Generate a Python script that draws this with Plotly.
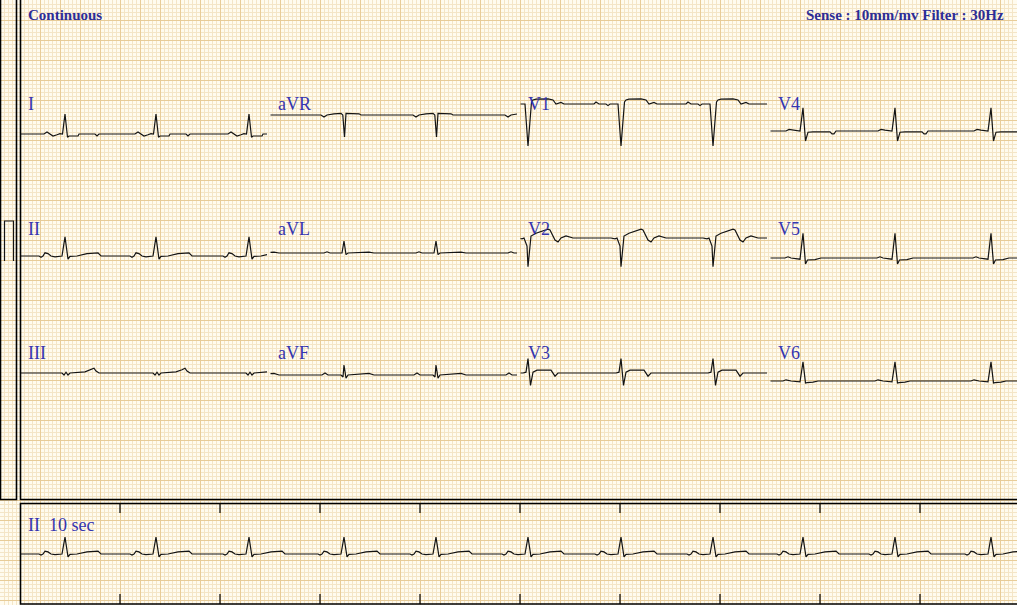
import numpy as np
import plotly.graph_objects as go

# ---------------- DATA ----------------
# R-peak times (s) read from the rhythm strip (25 mm/s, 10 mm/mV)
R_TIMES = [0.45, 1.36, 2.29, 3.24, 4.16, 5.08, 6.01, 6.93, 7.83, 8.75, 9.71]

# beat templates: offsets from R peak (s) and amplitude (mV)
I_T   = [-0.21, -0.18, -0.15, -0.12, -0.08, -0.05, -0.025, 0.0, 0.025, 0.04, 0.13, 0.14, 0.30, 0.32, 0.34]
I_MV  = [0.0, 0.05, 0.0, -0.05, -0.02, 0.01, 0.0, 0.50, -0.08, -0.05, -0.05, 0.0, 0.0, -0.05, 0.0]

AVR_T  = [-0.23, -0.20, -0.17, -0.10, -0.03, -0.012, 0.005, 0.02, 0.15, 0.17]
AVR_MV = [0.0, -0.05, 0.0, 0.03, 0.04, 0.0, -0.55, 0.04, 0.03, 0.0]

V1_T  = [-0.27, -0.25, -0.22, -0.15, -0.13, -0.11, -0.03, 0.0, 0.035, 0.05, 0.08, 0.20, 0.25, 0.28, 0.33, 0.36]
V1_MV = [0.0, 0.05, 0.0, 0.0, -0.04, 0.0, 0.0, -1.05, 0.05, 0.10, 0.12, 0.13, 0.10, 0.0, 0.04, 0.0]

V4_T  = [-0.17, -0.14, -0.10, -0.03, 0.0, 0.025, 0.05, 0.10, 0.27, 0.29, 0.31, 0.33]
V4_MV = [0.0, 0.04, 0.02, 0.0, 0.58, -0.25, -0.03, -0.02, -0.02, -0.07, -0.07, 0.0]

II_T  = [-0.26, -0.24, -0.22, -0.20, -0.17, -0.14, -0.10, -0.03, 0.0, 0.03, 0.05, 0.12, 0.22, 0.33, 0.36]
II_MV = [0.0, -0.03, 0.0, 0.08, 0.06, 0.0, -0.02, 0.0, 0.48, -0.08, -0.01, 0.0, 0.06, 0.08, 0.0]

AVL_T  = [-0.20, -0.17, -0.14, -0.02, 0.0, 0.02, 0.04, 0.25, 0.30]
AVL_MV = [0.0, 0.03, 0.0, 0.0, 0.30, -0.04, 0.0, 0.02, 0.0]

V2_T  = [-0.10, -0.06, -0.04, -0.01, 0.0, 0.03, 0.08, 0.20, 0.22, 0.27, 0.30, 0.33, 0.38, 0.45]
V2_MV = [0.0, -0.02, 0.0, -0.20, -0.72, 0.05, 0.12, 0.22, 0.20, -0.05, -0.10, 0.0, 0.05, 0.0]

V5_T  = [-0.18, -0.15, -0.12, -0.03, 0.0, 0.025, 0.045, 0.12, 0.18]
V5_MV = [0.0, 0.03, 0.0, -0.03, 0.62, -0.15, -0.05, -0.04, 0.0]

III_T  = [-0.03, -0.01, 0.01, 0.03, 0.05, 0.20, 0.26, 0.29, 0.31, 0.34]
III_MV = [0.0, -0.05, 0.02, -0.05, 0.0, 0.03, 0.08, 0.12, 0.05, 0.0]

AVF_T  = [-0.22, -0.19, -0.16, -0.03, -0.01, 0.0, 0.02, 0.04, 0.25, 0.30]
AVF_MV = [0.0, 0.05, 0.0, 0.0, -0.05, 0.25, -0.08, 0.0, 0.04, 0.0]

V3_T  = [-0.05, -0.02, 0.0, 0.025, 0.05, 0.09, 0.23, 0.27, 0.30]
V3_MV = [0.0, 0.02, 0.36, -0.31, 0.02, 0.07, 0.07, -0.08, 0.0]

V6_T  = [-0.20, -0.17, -0.12, -0.03, 0.0, 0.025, 0.04, 0.10, 0.15]
V6_MV = [0.0, 0.03, 0.0, -0.02, 0.48, -0.05, -0.04, -0.03, 0.0]

LEAD_NAMES = ["I", "aVR", "V1", "V4", "II", "aVL", "V2", "V5", "III", "aVF", "V3", "V6"]
TEMPLATES = {
    "I": (I_T, I_MV), "aVR": (AVR_T, AVR_MV), "V1": (V1_T, V1_MV), "V4": (V4_T, V4_MV),
    "II": (II_T, II_MV), "aVL": (AVL_T, AVL_MV), "V2": (V2_T, V2_MV), "V5": (V5_T, V5_MV),
    "III": (III_T, III_MV), "aVF": (AVF_T, AVF_MV), "V3": (V3_T, V3_MV), "V6": (V6_T, V6_MV),
}
CAL_MV = 1.0  # calibration pulse height
TOTAL_S = 10.0
COL_S = 2.5

# ---------------- LAYOUT (pixels) ----------------
W, H = 1017, 605
X0PX = 20          # pixel of t = 0
PX_S = 100.0       # px per second
PX_MV = 40.0       # px per mV

def tx(px):
    return (px - X0PX) / PX_S

def ty(py):
    return -py / PX_MV

# baseline (pixel y) of each lead
BASE_PX = {"I": 134, "aVR": 115, "V1": 104, "V4": 131,
           "II": 256, "aVL": 253, "V2": 238, "V5": 258,
           "III": 373, "aVF": 375, "V3": 373, "V6": 381}
RHYTHM_BASE_PX = 554
LABEL_PX = {0: 104, 1: 229, 2: 353}
COL_LABEL_X = [26, 276, 526, 776]

INK = "#141414"
LABEL_COLOR = "#3535B0"
TITLE_COLOR = "#2D2D96"
BG = "#FFFBEE"
MINOR = "#F4E5C6"
MAJOR = "#E8CC98"


def lead_signal(name):
    """Piecewise-linear lead signal: template placed at each R peak."""
    tt, mv = TEMPLATES[name]
    ts, vs = [0.0], [0.0]
    for r in R_TIMES:
        for dt, v in zip(tt, mv):
            ts.append(r + dt)
            vs.append(v)
    ts.append(TOTAL_S)
    vs.append(0.0)
    return np.array(ts), np.array(vs)


def window(ts, vs, a, b):
    m = (ts > a) & (ts < b)
    x = np.concatenate([[a], ts[m], [b]])
    y = np.concatenate([[np.interp(a, ts, vs)], vs[m], [np.interp(b, ts, vs)]])
    return x, y


fig = go.Figure()

# 12-lead section: 4 columns x 3 rows, 2.5 s each
for i, name in enumerate(LEAD_NAMES):
    row, col = divmod(i, 4)
    ts, vs = lead_signal(name)
    a = col * COL_S + 0.005
    b = col * COL_S + COL_S - 0.03
    if col == 0:
        a = 0.0
    x, y = window(ts, vs, a, b)
    fig.add_trace(go.Scatter(x=x, y=y + ty(BASE_PX[name]), mode="lines",
                             line=dict(color=INK, width=1.2), hoverinfo="skip",
                             showlegend=False))

# rhythm strip: lead II, 10 s
ts, vs = lead_signal("II")
x, y = window(ts, vs, 0.0, TOTAL_S)
fig.add_trace(go.Scatter(x=x, y=y * 0.88 + ty(RHYTHM_BASE_PX), mode="lines",
                         line=dict(color=INK, width=1.2), hoverinfo="skip",
                         showlegend=False))

# calibration pulse in left strip
cal_base = ty(261)
fig.add_trace(go.Scatter(x=[tx(4.5), tx(4.5), tx(13.5), tx(13.5)],
                         y=[cal_base, cal_base + CAL_MV, cal_base + CAL_MV, cal_base],
                         mode="lines", line=dict(color=INK, width=1.2),
                         hoverinfo="skip", showlegend=False))

shapes = []
# left strip box
shapes.append(dict(type="rect", xref="x", yref="y", x0=tx(0.5), x1=tx(16.5),
                   y0=ty(-2), y1=ty(499.5), line=dict(color="#000", width=1.6)))
# main box
shapes.append(dict(type="rect", xref="x", yref="y", x0=tx(20.5), x1=tx(1030),
                   y0=ty(-2), y1=ty(499.5), line=dict(color="#000", width=1.6)))
# rhythm box
shapes.append(dict(type="rect", xref="x", yref="y", x0=tx(20.5), x1=tx(1030),
                   y0=ty(503.5), y1=ty(604), line=dict(color="#000", width=1.6)))
# one-second tick marks on rhythm box
for s in range(1, 10):
    shapes.append(dict(type="line", xref="x", yref="y", x0=s, x1=s,
                       y0=ty(503.5), y1=ty(513), line=dict(color="#000", width=1.2)))
    shapes.append(dict(type="line", xref="x", yref="y", x0=s, x1=s,
                       y0=ty(594), y1=ty(604), line=dict(color="#000", width=1.2)))

annotations = []
annotations.append(dict(x=tx(26), y=ty(15), xref="x", yref="y", text="<b>Continuous</b>",
                        showarrow=False, xanchor="left", yanchor="middle",
                        font=dict(family="Liberation Serif", size=15, color=TITLE_COLOR)))
annotations.append(dict(x=tx(1006), y=ty(15), xref="x", yref="y",
                        text="<b>Sense : 10mm/mv Filter : 30Hz</b>",
                        showarrow=False, xanchor="right", yanchor="middle",
                        font=dict(family="Liberation Serif", size=15, color=TITLE_COLOR)))
for i, name in enumerate(LEAD_NAMES):
    row, col = divmod(i, 4)
    annotations.append(dict(x=tx(COL_LABEL_X[col]), y=ty(LABEL_PX[row]), xref="x", yref="y",
                            text=name, showarrow=False, xanchor="left", yanchor="middle",
                            font=dict(family="Liberation Serif", size=18, color=LABEL_COLOR)))
annotations.append(dict(x=tx(26), y=ty(525), xref="x", yref="y", text="II  10 sec",
                        showarrow=False, xanchor="left", yanchor="middle",
                        font=dict(family="Liberation Serif", size=18, color=LABEL_COLOR)))

fig.update_layout(
    width=W, height=H, margin=dict(l=0, r=0, t=0, b=0),
    paper_bgcolor=BG, plot_bgcolor=BG,
    shapes=shapes, annotations=annotations, showlegend=False,
    xaxis=dict(range=[tx(0), tx(W)], showticklabels=False, ticks="", zeroline=False,
               showgrid=True, dtick=0.2, tick0=0, gridcolor=MAJOR, gridwidth=1,
               minor=dict(dtick=0.04, tick0=0, showgrid=True, gridcolor=MINOR, gridwidth=1),
               fixedrange=True),
    yaxis=dict(range=[ty(H), ty(0)], showticklabels=False, ticks="", zeroline=False,
               showgrid=True, dtick=0.5, tick0=0, gridcolor=MAJOR, gridwidth=1,
               minor=dict(dtick=0.1, tick0=0, showgrid=True, gridcolor=MINOR, gridwidth=1),
               fixedrange=True),
)

fig.write_html("out.html")
